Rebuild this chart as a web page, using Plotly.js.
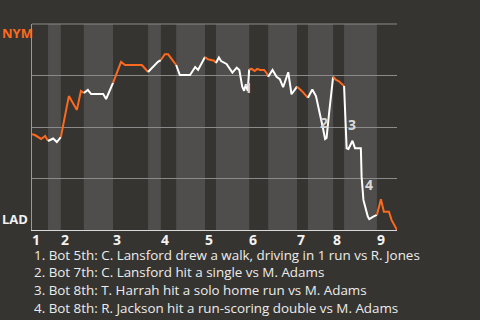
<!DOCTYPE html>
<html>
<head>
<meta charset="utf-8">
<script src="https://cdn.plot.ly/plotly-3.0.1.min.js"></script>
<style>
html,body{margin:0;padding:0;background:#363430;}
#chart{width:480px;height:320px;}
</style>
</head>
<body>
<div id="chart"></div>
<script>
// Half-inning boundaries on the game-progress axis (0..100); last value = game end
const halfInningStart = [0, 4.4, 7.9, 14.2, 22.2, 31.8, 35.3, 39.5, 47.4, 50.4, 59.5, 64.7, 72.6, 75.6, 82.5, 85.5, 94.5, 100];
const inningLabels = ['1', '2', '3', '4', '5', '6', '7', '8', '9'];

// Game progress (x) and NYM win probability in % (y)
const progress = [0, 0.8, 2.5, 3.6, 4.4, 5.8, 6.8, 7.9, 10.1, 12.3, 13.4, 14.2, 15.3, 16.2, 19.5, 20.3, 22.2,
  24.4, 25.5, 30.1, 31.8, 34.5, 35.3, 36.4, 37.3, 39.5, 40.5, 43.3, 44.7, 45.5, 47.4, 48.2, 49.9, 50.4,
  51.2, 51.8, 53.3, 54.9, 56.1, 56.8, 57.6, 58.1, 58.6, 59.1, 59.5, 60.2, 61.0, 61.7, 62.5, 63.6, 64.3, 64.7,
  65.9, 67.0, 67.9, 68.8, 70.2, 71.1, 71.8, 72.6, 73.9, 75.6, 76.8, 77.8, 78.9, 79.7, 80.3, 80.7, 81.4, 81.9, 82.5,
  83.3, 84.0, 84.6, 85.5, 86.2, 86.7, 87.8, 88.5, 90.1, 90.3, 90.8, 92.0, 92.4, 93.5, 94.5,
  95.6, 96.4, 97.8, 98.5, 100];
const winProb = [46.5, 46.1, 44.2, 45.6, 43.2, 44.4, 42.7, 45.1, 65.0, 58.3, 67.5, 66.5, 68.0, 66.0, 66.0, 63.6, 71.4,
  81.6, 80.1, 80.1, 76.7, 81.6, 82.5, 85.3, 85.3, 80.1, 75.2, 75.2, 79.1, 77.7, 84.0, 82.9, 82.2, 81.1,
  83.7, 82.0, 80.6, 76.4, 78.8, 77.7, 69.6, 67.6, 70.7, 67.5, 78.0, 78.2, 77.2, 78.2, 77.7, 77.7, 76.1, 74.4,
  77.7, 74.4, 73.2, 69.3, 76.6, 65.9, 67.5, 69.6, 67.5, 64.2, 68.2, 65.0, 56.8, 49.5, 44.2, 44.7, 56.8, 64.6, 74.4,
  72.8, 72.3, 71.5, 69.9, 39.7, 39.3, 43.3, 39.7, 39.7, 25.9, 14.6, 6.5, 5.3, 6.5, 7.3,
  14.9, 8.9, 8.9, 4.9, 0];

const teams = ['NYM', 'LAD'];
const eventMarkers = ['1', '2', '3', '4'];
const eventNotes = [
  '1. Bot 5th: C. Lansford drew a walk, driving in 1 run vs R. Jones',
  '2. Bot 7th: C. Lansford hit a single vs M. Adams',
  '3. Bot 8th: T. Harrah hit a solo home run vs M. Adams',
  '4. Bot 8th: R. Jackson hit a run-scoring double vs M. Adams'
];

const ORANGE = '#fb6a1f';
const WHITE = '#ffffff';
const BAND = '#4f4e4c';
const BG = '#363430';

const traces = [];
const shapes = [];
for (let i = 0; i < halfInningStart.length - 1; i++) {
  const a = halfInningStart[i], b = halfInningStart[i + 1];
  const xs = [], ys = [];
  for (let k = 0; k < progress.length; k++) {
    if (progress[k] >= a - 1e-9 && progress[k] <= b + 1e-9) { xs.push(progress[k]); ys.push(winProb[k]); }
  }
  const top = (i % 2 === 0);
  traces.push({
    x: xs, y: ys, type: 'scatter', mode: 'lines',
    line: {color: top ? ORANGE : WHITE, width: 2},
    hoverinfo: 'skip', showlegend: false
  });
  if (!top) {
    shapes.push({type: 'rect', xref: 'x', yref: 'paper', x0: a, x1: b, y0: 0, y1: 1,
      fillcolor: BAND, line: {width: 0}, layer: 'below'});
  }
}
// top gridline (100%) which Plotly omits at the range edge
shapes.push({type: 'line', xref: 'paper', yref: 'paper', x0: 0, x1: 1, y0: 1, y1: 1,
  line: {color: '#8a8a8a', width: 1}, layer: 'below'});

const annotations = [];
inningLabels.forEach((lab, k) => {
  annotations.push({x: halfInningStart[2 * k], y: 0, xref: 'x', yref: 'paper', text: lab,
    showarrow: false, xanchor: 'left', yanchor: 'top', xshift: -1, yshift: 1, borderpad: 0,
    font: {family: 'Open Sans, sans-serif', size: 14, color: '#f2f2f2', weight: 'bold'}});
});
annotations.push({x: -30 / 365, y: 1, xref: 'paper', yref: 'paper', text: teams[0], showarrow: false,
  xanchor: 'left', yanchor: 'top', xshift: -1, yshift: 1, borderpad: 0,
  font: {family: 'Open Sans, sans-serif', size: 13, color: ORANGE, weight: 'bold'}});
annotations.push({x: -30 / 365, y: 0, xref: 'paper', yref: 'paper', text: teams[1], showarrow: false,
  xanchor: 'left', yanchor: 'bottom', xshift: -1, yshift: 1, borderpad: 0,
  font: {family: 'Open Sans, sans-serif', size: 13, color: '#f2f2f2', weight: 'bold'}});

const markerPos = [[59.3, 69], [80.1, 52.4], [87.7, 51.0], [92.2, 22.3]];
eventMarkers.forEach((m, k) => {
  annotations.push({x: markerPos[k][0], y: markerPos[k][1], xref: 'x', yref: 'y', text: m,
    showarrow: false, xanchor: 'center', yanchor: 'middle', borderpad: 0,
    font: {family: 'Open Sans, sans-serif', size: 14, color: '#dadada', weight: 'bold'}});
});

eventNotes.forEach((t, k) => {
  annotations.push({x: 0, y: 0, xref: 'paper', yref: 'paper', text: t, showarrow: false,
    xanchor: 'left', yanchor: 'middle', yshift: -24.5 - 17.8 * k, xshift: 1, borderpad: 0,
    font: {family: 'Open Sans, sans-serif', size: 13.4, color: '#ececec'}});
});

const layout = {
  width: 480, height: 320,
  paper_bgcolor: BG, plot_bgcolor: BG,
  margin: {l: 32, r: 83, t: 24, b: 90, pad: 0},
  xaxis: {range: [0, 100], showgrid: false, zeroline: false, showline: true, linecolor: '#d8d8d8',
    linewidth: 1, showticklabels: false, ticks: '', fixedrange: true},
  yaxis: {range: [0, 100], dtick: 25, tick0: 0, showgrid: true, gridcolor: '#8a8a8a', gridwidth: 1,
    zeroline: false, showline: true, linecolor: '#9a9a9a', linewidth: 1, showticklabels: false, ticks: '',
    fixedrange: true},
  shapes: shapes,
  annotations: annotations,
  showlegend: false
};

Plotly.newPlot('chart', traces, layout, {displayModeBar: false, staticPlot: true});
</script>
</body>
</html>
